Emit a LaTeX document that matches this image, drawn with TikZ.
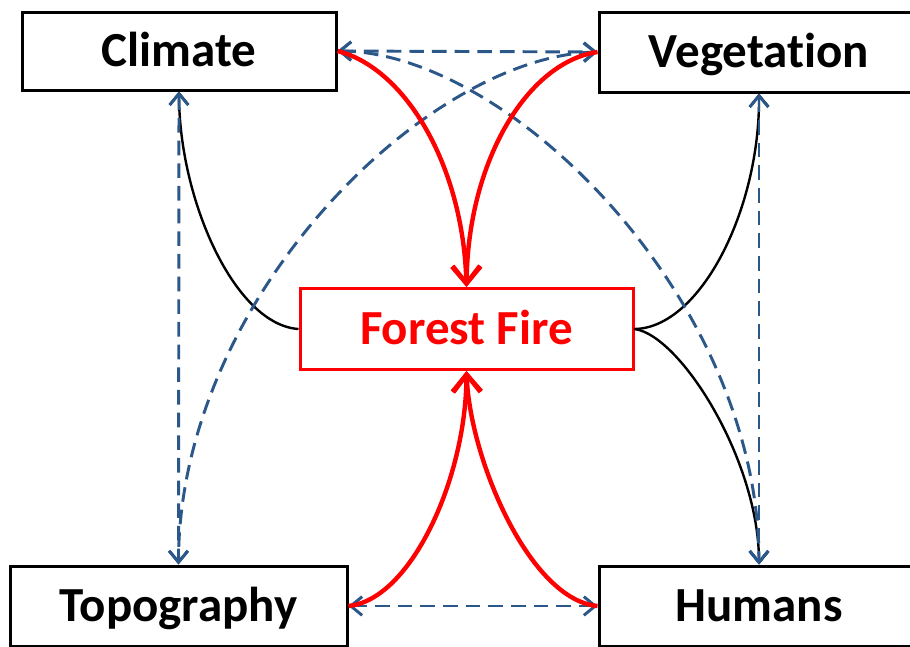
\documentclass[tikz,border=0pt]{standalone}
\usepackage{fontspec}
\setmainfont{Carlito}[Ligatures=NoCommon]
\usetikzlibrary{arrows.meta}
\definecolor{dblue}{HTML}{2B5789}
\begin{document}
\begin{tikzpicture}[x=0.75pt,y=-0.75pt,
  box/.style={draw=black,line width=2.25pt,fill=white,inner sep=0pt,
    font=\fontsize{36.75}{40}\selectfont\bfseries,text height=23pt,text depth=0pt},
  firebox/.style={box,draw=red,text=red},
  bl/.style={draw=dblue,line width=2.2pt,dash pattern=on 11pt off 6pt,
    arrows={Straight Barb[length=8.5pt,width=14pt]-Straight Barb[length=8.5pt,width=14pt]}},
  blk/.style={draw=black,line width=1.8pt,-{Straight Barb[length=8.5pt,width=14pt]}},
  rd/.style={draw=red,line width=3.3pt,-{Straight Barb[length=13pt,width=21pt]}}]
\clip (0,0) rectangle (910,646);
\node[box,minimum width=314*0.75pt,minimum height=78*0.75pt] (clim) at (179,51) {Climate};
\node[box,minimum width=320*0.75pt,minimum height=80*0.75pt] (veg) at (759,52) {Vegetation};
\node[firebox,minimum width=333*0.75pt,minimum height=81*0.75pt] (fire) at (466.5,329) {Forest Fire};
\node[box,minimum width=337*0.75pt,minimum height=80*0.75pt] (topo) at (178.5,606) {Topography};
\node[box,minimum width=320*0.75pt,minimum height=80*0.75pt] (hum) at (759,606) {Humans};
% black influences
\draw[blk] (fire.west) .. controls (235,325) and (179,200) .. (clim.south);
\draw[blk] (fire.east) .. controls (700,328) and (760,210) .. (veg.south);
\draw[blk] (fire.east) .. controls (680,335) and (759,460) .. (hum.north);
% blue dashed interactions
\draw[bl] (clim.east) -- (veg.west);
\draw[bl] (topo.east) -- (hum.west);
\draw[bl] (clim.south) -- (topo.north);
\draw[bl] (veg.south) -- (hum.north);
\draw[bl] (clim.east) .. controls (510,52) and (759,300) .. (hum.north);
\draw[bl] (veg.west) .. controls (425,57) and (179,300) .. (topo.north);
% red influences on fire
\draw[rd] (clim.east) .. controls (405,68) and (463,165) .. (fire.north);
\draw[rd] (veg.west) .. controls (528,62) and (468,160) .. (fire.north);
\draw[rd] (topo.east) .. controls (410,600) and (466,480) .. (fire.south);
\draw[rd] (hum.west) .. controls (530,600) and (470,460) .. (fire.south);
\end{tikzpicture}
\end{document}
